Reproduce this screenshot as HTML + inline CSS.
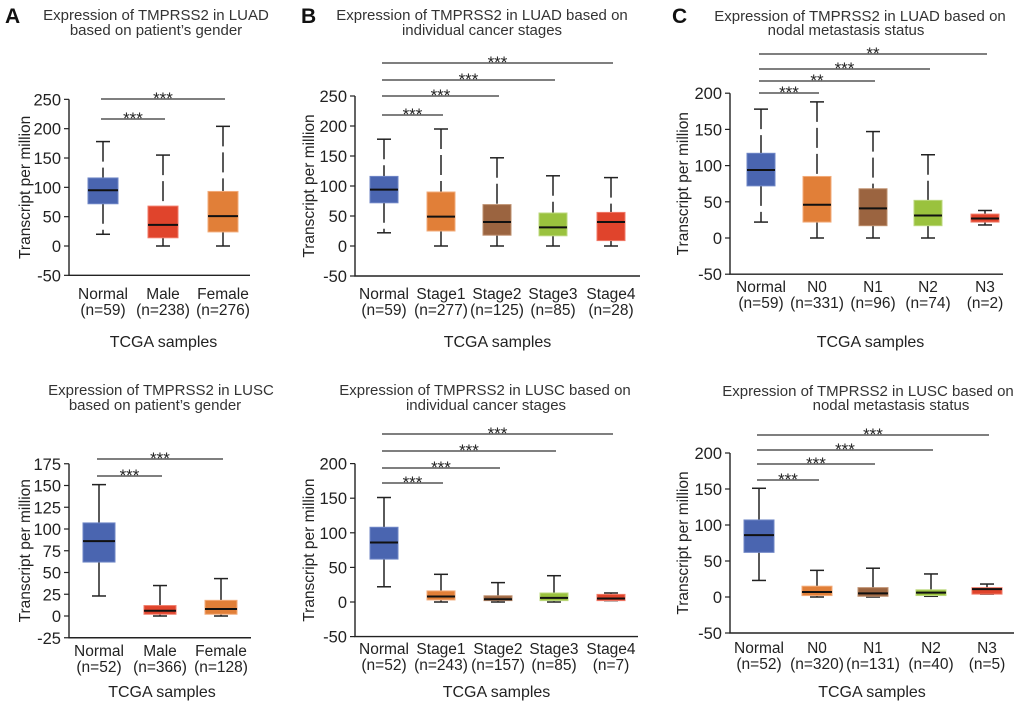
<!DOCTYPE html>
<html><head><meta charset="utf-8"><style>
html,body{margin:0;padding:0;background:#fff;}
svg{display:block;font-family:"Liberation Sans",Arial,sans-serif;}
</style></head><body>
<svg id="fig" width="1020" height="705" viewBox="0 0 1020 705">
<text x="5" y="23" font-size="21" font-weight="bold" fill="#111">A</text>
<text x="301" y="23" font-size="21" font-weight="bold" fill="#111">B</text>
<text x="672" y="23" font-size="21" font-weight="bold" fill="#111">C</text>
</svg>
<script>
// ---- DATA ----
// box stats: [whiskerLow, q1, median, q3, whiskerHigh]
const luadGenderCats = ["Normal","Male","Female"];
const luadGenderN = ["(n=59)","(n=238)","(n=276)"];
const luadGenderBoxes = [[20,72,95,116,178],[0,14,36,68,155],[0,24,51,93,204]];
const luadGenderSig = ["***","***"];
const luadGenderTicks = [250,200,150,100,50,0,-50];

const luadStageCats = ["Normal","Stage1","Stage2","Stage3","Stage4"];
const luadStageN = ["(n=59)","(n=277)","(n=125)","(n=85)","(n=28)"];
const luadStageBoxes = [[22,72,94,116,178],[0,25,49,90,195],[0,18,40,69,147],[0,17,31,55,117],[0,9,40,56,114]];
const luadStageSig = ["***","***","***","***"];
const luadStageTicks = [250,200,150,100,50,0,-50];

const luadNodalCats = ["Normal","N0","N1","N2","N3"];
const luadNodalN = ["(n=59)","(n=331)","(n=96)","(n=74)","(n=2)"];
const luadNodalBoxes = [[22,72,94,117,178],[0,22,46,85,188],[0,17,41,68,147],[0,17,31,52,115],[18,22,27,33,38]];
const luadNodalSig = ["***","**","***","**"];
const luadNodalTicks = [200,150,100,50,0,-50];

const luscGenderCats = ["Normal","Male","Female"];
const luscGenderN = ["(n=52)","(n=366)","(n=128)"];
const luscGenderBoxes = [[23,62,86,107,151],[0,2,6,12,35],[0,2,8,18,43]];
const luscGenderSig = ["***","***"];
const luscGenderTicks = [175,150,125,100,75,50,25,0,-25];

const luscStageCats = ["Normal","Stage1","Stage2","Stage3","Stage4"];
const luscStageN = ["(n=52)","(n=243)","(n=157)","(n=85)","(n=7)"];
const luscStageBoxes = [[22,62,86,108,151],[0,3,8,16,40],[0,2,4,9,28],[0,2,6,13,38],[2,2,5,11,13]];
const luscStageSig = ["***","***","***","***"];
const luscStageTicks = [200,150,100,50,0,-50];

const luscNodalCats = ["Normal","N0","N1","N2","N3"];
const luscNodalN = ["(n=52)","(n=320)","(n=131)","(n=40)","(n=5)"];
const luscNodalBoxes = [[23,62,86,107,151],[0,2,7,15,37],[0,1,5,13,40],[1,2,6,10,32],[4,4,11,13,18]];
const luscNodalSig = ["***","***","***","***"];
const luscNodalTicks = [200,150,100,50,0,-50];

// ---- LAYOUT ----
const NS="http://www.w3.org/2000/svg";
const svg=document.getElementById('fig');
const COL={blue:["#4a65b0","#6f86c6"],red:["#e0442c","#f07a68"],orange:["#e17f38","#f2ab7a"],brown:["#9b6440","#be8f6e"],green:["#9ac23e","#bcd87e"]};
function mk(tag,attrs,parent){const e=document.createElementNS(NS,tag);for(const k in attrs)e.setAttribute(k,attrs[k]);(parent||svg).appendChild(e);return e;}
function txt(x,y,s,size,anchor,parent,fill){const t=mk('text',{x:x,y:y,'font-size':size,'text-anchor':anchor||'middle',fill:fill||'#222'},parent);t.textContent=s;return t;}

function panel(id,L,cats,ns,boxes,sig,ticks){
  const g=mk('g',{});
  
  
  const y=v=>L.y0-v*L.k;
  L.title.forEach((s,i)=>{const t=txt(L.titleX[i],L.titleY[i],s,15,'middle',g,'#333');
    
    });
  const yTop=y(ticks[0]), yBot=y(ticks[ticks.length-1]);
  const ax=mk('path',{d:`M${L.ax},${yTop}V${yBot}H${L.axEnd}`,stroke:'#222','stroke-width':1.4,fill:'none'},g);
  
  
  ticks.forEach(tv=>{
    mk('line',{x1:L.ax-5,x2:L.ax,y1:y(tv),y2:y(tv),stroke:'#222','stroke-width':1.2},g);
    const t=txt(L.ax-8,y(tv)+6,String(tv),16.5,'end',g);
    
    
  });
  const yt=txt(0,0,'Transcript per million',15.5,'middle',g);
  yt.setAttribute('transform',`translate(${L.ytX},${(yTop+yBot)/2}) rotate(-90)`);
  
  
  const xt=txt((L.ax+L.axEnd)/2+L.xtOff,L.xtY,'TCGA samples',16,'middle',g);
  
  
  boxes.forEach((b,i)=>{
    const cx=L.cx[i], w=L.bw, c=COL[L.colors[i]];
    const bg=mk('g',{},g);
    
    
    const da=L.dash?'20 6':'none';
    mk('line',{x1:cx,x2:cx,y1:y(b[4]),y2:y(b[3]),stroke:'#222','stroke-width':1.5,'stroke-dasharray':da},bg);
    mk('line',{x1:cx,x2:cx,y1:y(b[1]),y2:y(b[0]),stroke:'#222','stroke-width':1.5,'stroke-dasharray':da},bg);
    mk('line',{x1:cx-7,x2:cx+7,y1:y(b[4]),y2:y(b[4]),stroke:'#222','stroke-width':1.5},bg);
    mk('line',{x1:cx-7,x2:cx+7,y1:y(b[0]),y2:y(b[0]),stroke:'#222','stroke-width':1.5},bg);
    mk('rect',{x:cx-w/2,y:y(b[3]),width:w,height:Math.max(1,y(b[1])-y(b[3])),fill:c[0],stroke:c[1],'stroke-width':1},bg);
    mk('line',{x1:cx-w/2,x2:cx+w/2,y1:y(b[2]),y2:y(b[2]),stroke:'#111','stroke-width':2},bg);
    const l1=txt(cx,L.catY,cats[i],15.5,'middle',g);
    
    
    const l2=txt(cx,L.catY+16,ns[i],15.5,'middle',g);
    
    
  });
  sig.forEach((s,i)=>{
    const x1=L.cx[0]-2, x2=L.cx[i+1]+2, yy=L.sigY[i];
    const sl=mk('line',{x1:x1,x2:x2,y1:yy,y2:yy,stroke:'#333','stroke-width':1.2},g);
    
    
    const st=txt((x1+x2)/2,yy+5,s,17,'middle',g);
    
    
  });
}

panel('luad-gender',{y0:246,k:29.33/50,ax:69,axEnd:250,cx:[103,163,223],bw:30,colors:['blue','red','orange'],dash:true,
  title:['Expression of TMPRSS2 in LUAD','based on patient\u2019s gender'],titleX:[156,156],titleY:[20,35],
  ytX:30,xtY:347,xtOff:4,catY:299,sigY:[119,99]},luadGenderCats,luadGenderN,luadGenderBoxes,luadGenderSig,luadGenderTicks);
panel('luad-stage',{y0:246,k:30/50,ax:355,axEnd:640,cx:[384,441,497,553,611],bw:28,colors:['blue','orange','brown','green','red'],dash:true,
  title:['Expression of TMPRSS2 in LUAD based on','individual cancer stages'],titleX:[482,482],titleY:[20,35],
  ytX:314,xtY:347,xtOff:0,catY:299,sigY:[115,96,80,63]},luadStageCats,luadStageN,luadStageBoxes,luadStageSig,luadStageTicks);
panel('luad-nodal',{y0:238,k:36.2/50,ax:730,axEnd:1003,cx:[761,817,873,928,985],bw:28,colors:['blue','orange','brown','green','red'],dash:true,
  title:['Expression of TMPRSS2 in LUAD based on','nodal metastasis status'],titleX:[860,846],titleY:[21,35],
  ytX:688,xtY:347,xtOff:4,catY:292,sigY:[93,81,69,54]},luadNodalCats,luadNodalN,luadNodalBoxes,luadNodalSig,luadNodalTicks);
panel('lusc-gender',{y0:616,k:21.75/25,ax:69,axEnd:251,cx:[99,160,221],bw:32,colors:['blue','red','orange'],dash:false,
  title:['Expression of TMPRSS2 in LUSC','based on patient\u2019s gender'],titleX:[161,155],titleY:[395,410],
  ytX:30,xtY:697,xtOff:2,catY:656,sigY:[476,459]},luscGenderCats,luscGenderN,luscGenderBoxes,luscGenderSig,luscGenderTicks);
panel('lusc-stage',{y0:602,k:34.6/50,ax:355,axEnd:638,cx:[384,441,498,554,611],bw:28,colors:['blue','orange','brown','green','red'],dash:false,
  title:['Expression of TMPRSS2 in LUSC based on','individual cancer stages'],titleX:[485,486],titleY:[395,410],
  ytX:314,xtY:697,xtOff:0,catY:654,sigY:[483,468,451,434]},luscStageCats,luscStageN,luscStageBoxes,luscStageSig,luscStageTicks);
panel('lusc-nodal',{y0:597,k:36/50,ax:730,axEnd:1014,cx:[759,817,873,931,987],bw:30,colors:['blue','orange','brown','green','red'],dash:false,
  title:['Expression of TMPRSS2 in LUSC based on','nodal metastasis status'],titleX:[868,891],titleY:[396,410],
  ytX:688,xtY:697,xtOff:0,catY:653,sigY:[480,464,450,435]},luscNodalCats,luscNodalN,luscNodalBoxes,luscNodalSig,luscNodalTicks);
</script>
</body></html>
